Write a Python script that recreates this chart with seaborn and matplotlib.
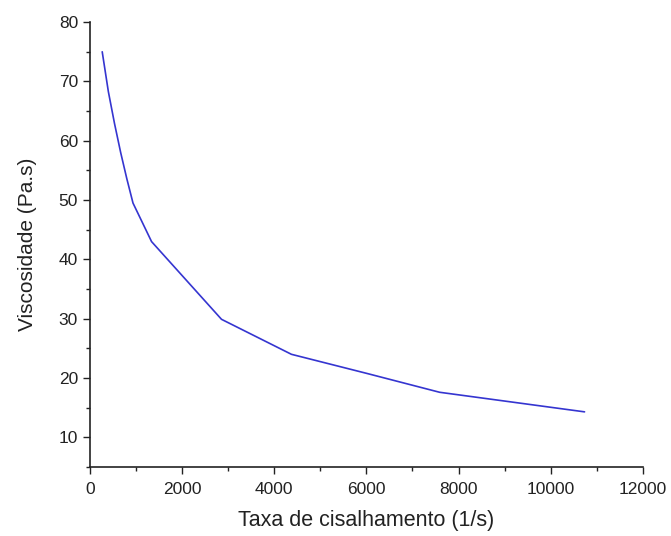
import matplotlib
matplotlib.use("Agg")
import matplotlib.pyplot as plt
import seaborn as sns
import pandas as pd
from matplotlib.ticker import MultipleLocator

shear_rate = [267, 400, 534, 668, 801, 935, 1338, 2856, 4374, 6000, 7590, 10735]
viscosity = [75.0, 68.3, 62.9, 58.0, 53.6, 49.5, 43.0, 29.9, 24.0, 20.8, 17.6, 14.3]

x_ticks = [0, 2000, 4000, 6000, 8000, 10000, 12000]
y_ticks = [10, 20, 30, 40, 50, 60, 70, 80]

df = pd.DataFrame({"x": shear_rate, "y": viscosity})

sns.set_style("ticks")
plt.rcParams['font.family'] = ['Liberation Sans', 'DejaVu Sans']

fig = plt.figure(figsize=(6.71, 5.36), dpi=100)
ax = fig.add_axes([0.134, 0.1287, 0.824, 0.830])
sns.lineplot(data=df, x="x", y="y", ax=ax, color="#3535d0", linewidth=1.2, sort=False)

ax.set_xlim(0, 12000)
ax.set_ylim(5, 80)
ax.set_xticks(x_ticks)
ax.set_yticks(y_ticks)
ax.xaxis.set_minor_locator(MultipleLocator(1000))
ax.yaxis.set_minor_locator(MultipleLocator(5))
ax.tick_params(which="major", direction="out", length=5, width=1.0, labelsize=12.5, colors="#222222")
ax.tick_params(axis="x", which="major", pad=6)
ax.tick_params(which="minor", direction="out", length=3, width=1.0, colors="#222222")
ax.set_xlabel("Taxa de cisalhamento (1/s)", fontsize=15.5, color="#222222", labelpad=9)
ax.set_ylabel("Viscosidade (Pa.s)", fontsize=15, color="#222222", labelpad=16)
for s in ["top", "right"]:
    ax.spines[s].set_visible(False)
for s in ["left", "bottom"]:
    ax.spines[s].set_color("#222222")
    ax.spines[s].set_linewidth(1.2)

fig.savefig("out.png", dpi=100)
